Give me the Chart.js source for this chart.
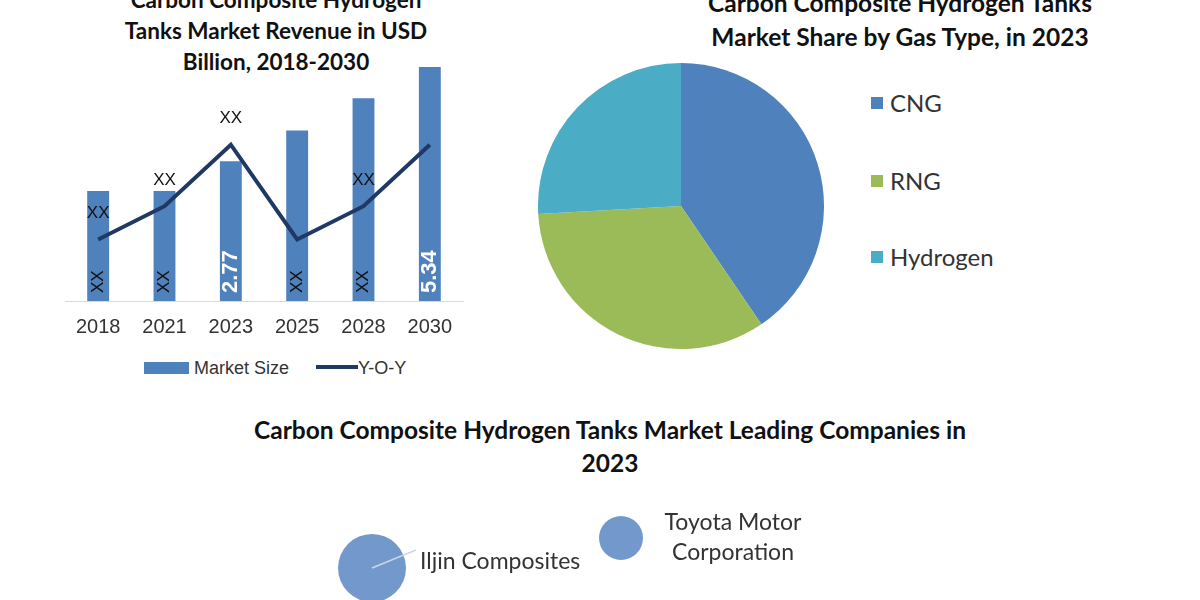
<!DOCTYPE html>
<html>
<head>
<meta charset="utf-8">
<script src="https://cdn.jsdelivr.net/npm/chart.js@4"></script>
<style>
  body { margin: 0; width: 1200px; height: 600px; overflow: hidden; background: #fff; position: relative; font-family: Lato, "Noto Sans", sans-serif; }
  .box { position: absolute; }
  .title { position: absolute; text-align: center; font-weight: bold; color: #111; }
  .lg { position: absolute; font-family: "Liberation Sans", Arial, sans-serif; font-size: 18px; color: #333; }
  .pl { position: absolute; font-size: 24px; color: #333; }
  .sq { position: absolute; width: 12px; height: 12px; }
</style>
</head>
<body>
<div class="title" style="left:66px; top:-16px; width:420px; font-size:22.5px; line-height:31px;">Carbon Composite Hydrogen<br>Tanks Market Revenue in USD<br>Billion, 2018-2030</div>
<div class="title" style="left:600px; top:-14px; width:600px; font-size:24.5px; line-height:34px;">Carbon Composite Hydrogen Tanks<br>Market Share by Gas Type, in 2023</div>
<div class="title" style="left:150px; top:413px; width:920px; font-size:24.5px; line-height:33px;">Carbon Composite Hydrogen Tanks Market Leading Companies in<br>2023</div>

<div class="box" style="left:60px; top:67px; width:420px; height:286px;"><canvas id="bar"></canvas></div>
<div class="lg" style="left:144px; top:358px;"><span style="display:inline-block;width:45px;height:12px;background:#4f81bd;vertical-align:0px;"></span> Market Size</div>
<div class="lg" style="left:316px; top:358px;"><span style="display:inline-block;width:42px;height:4px;background:#1f3864;vertical-align:5px;"></span>Y-O-Y</div>

<div class="box" style="left:538px; top:63px; width:286px; height:286px;"><canvas id="pie"></canvas></div>

<div class="box" style="left:0px; top:380px; width:1200px; height:220px;"><canvas id="bub"></canvas></div>

<script>
const years = ["2018", "2021", "2023", "2025", "2028", "2030"];
const marketSize = [2.18, 2.18, 2.77, 3.38, 4.02, 4.64];
const barLabels = ["XX", "XX", "2.77", "XX", "XX", "5.34"];
const yoy = [1.22, 1.88, 3.1, 1.22, 1.88, 3.1];
const yoyLabels = ["XX", "XX", "XX", "", "XX", ""];

const gasTypes = ["CNG", "RNG", "Hydrogen"];
const gasShare = [40.5, 33.6, 25.9];
const gasColors = ["#4f81bd", "#9bbb59", "#4bacc6"];

const companies = ["Iljin Composites", "Toyota Motor\nCorporation"];
const compX = [372, 621];
const compY = [188, 158];
const compR = [34, 22];

// legend for pie
const lgTops = [88, 166, 242];
gasTypes.forEach((g, i) => {
  const sq = document.createElement("div");
  sq.className = "sq"; sq.style.left = "871px"; sq.style.top = (lgTops[i] + 9) + "px"; sq.style.background = gasColors[i];
  document.body.appendChild(sq);
  const t = document.createElement("div");
  t.className = "pl"; t.style.left = "890px"; t.style.top = lgTops[i] + "px"; t.textContent = g;
  document.body.appendChild(t);
});

const barText = {
  id: "barText",
  afterDatasetsDraw(chart) {
    const c = chart.ctx;
    const bars = chart.getDatasetMeta(0).data;
    const pts = chart.getDatasetMeta(1).data;
    c.save();
    bars.forEach((b, i) => {
      c.save();
      c.translate(b.x, chart.scales.y.getPixelForValue(0) - 8);
      c.rotate(-Math.PI / 2);
      c.textAlign = "left"; c.textBaseline = "middle";
      const l = barLabels[i];
      c.fillStyle = l === "XX" ? "#111" : "#fff";
      c.font = l === "XX" ? "17px 'Liberation Sans', Arial" : "bold 22px 'Liberation Sans', Arial";
      c.fillText(l, 0, 0);
      c.restore();
    });
    c.font = "17px 'Liberation Sans', Arial";
    c.fillStyle = "#111"; c.textAlign = "center"; c.textBaseline = "middle";
    pts.forEach((p, i) => {
      if (yoyLabels[i]) c.fillText(yoyLabels[i], p.x, p.y - 26);
    });
    c.restore();
  }
};

new Chart(document.getElementById("bar"), {
  type: "bar",
  data: {
    labels: years,
    datasets: [
      { type: "bar", label: "Market Size", data: marketSize, backgroundColor: "#4f81bd", barPercentage: 0.33, categoryPercentage: 1, order: 2 },
      { type: "line", label: "Y-O-Y", data: yoy, borderColor: "#1f3864", borderWidth: 4, pointRadius: 0, tension: 0, order: 1 }
    ]
  },
  options: {
    responsive: true, maintainAspectRatio: false, animation: false,
    layout: { padding: { left: 5, right: 17 } },
    plugins: { legend: { display: false }, tooltip: { enabled: false } },
    scales: {
      y: { display: false, min: 0, max: 4.64 },
      x: {
        grid: { display: false, drawTicks: false },
        border: { color: "#d9d9d9", width: 1 },
        ticks: { color: "#333", font: { family: "'Liberation Sans', Arial", size: 20 }, padding: 14 }
      }
    }
  },
  plugins: [barText]
});

new Chart(document.getElementById("pie"), {
  type: "pie",
  data: { labels: gasTypes, datasets: [{ data: gasShare, backgroundColor: gasColors, borderWidth: 0 }] },
  options: {
    responsive: true, maintainAspectRatio: false, animation: false,
    plugins: { legend: { display: false }, tooltip: { enabled: false } }
  }
});

const bubText = {
  id: "bubText",
  afterDatasetsDraw(chart) {
    const c = chart.ctx;
    const pts = chart.getDatasetMeta(0).data;
    c.save();
    c.strokeStyle = "#c9d6e8"; c.lineWidth = 1.5;
    c.beginPath(); c.moveTo(pts[0].x, pts[0].y); c.lineTo(pts[0].x + 44, pts[0].y - 18); c.stroke();
    c.font = "23px Lato, 'Noto Sans'"; c.fillStyle = "#333"; c.textBaseline = "middle";
    c.textAlign = "left";
    c.fillText(companies[0], pts[0].x + 48, pts[0].y - 6);
    c.textAlign = "center";
    companies[1].split("\n").forEach((l, k) => c.fillText(l, pts[1].x + 112, pts[1].y - 15 + k * 30));
    c.restore();
  }
};

new Chart(document.getElementById("bub"), {
  type: "bubble",
  data: { datasets: [{ data: compX.map((x, i) => ({ x: x, y: compY[i], r: compR[i] })), backgroundColor: "#7399cc", borderWidth: 0, clip: false }] },
  options: {
    responsive: true, maintainAspectRatio: false, animation: false,
    layout: { padding: 0, autoPadding: false },
    plugins: { legend: { display: false }, tooltip: { enabled: false } },
    scales: {
      x: { display: false, min: 0, max: 1200 },
      y: { display: false, min: 0, max: 220, reverse: true }
    }
  },
  plugins: [bubText]
});
</script>
</body>
</html>
